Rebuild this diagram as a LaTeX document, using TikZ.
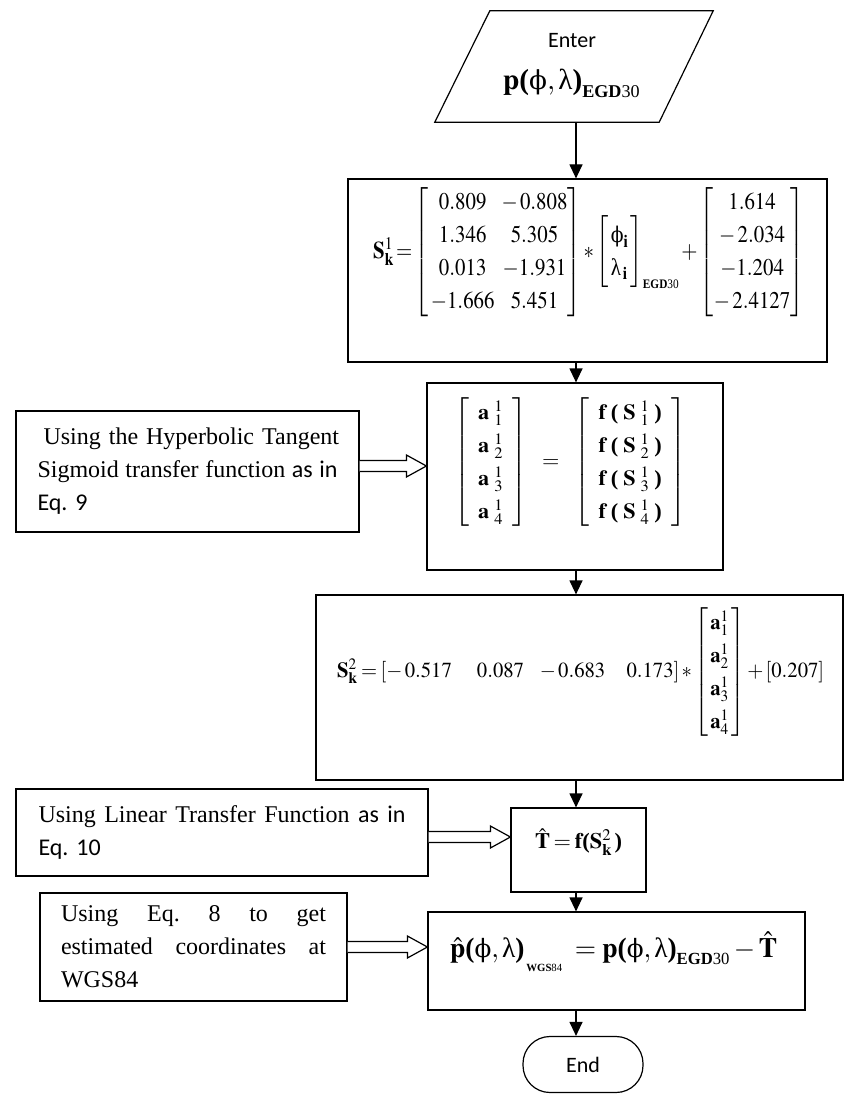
\documentclass[tikz,border=0pt]{standalone}
\usepackage{amsmath}
\usepackage{graphicx}
\usepackage{mathptmx}
\usepackage[no-math]{fontspec}
\setmainfont{Liberation Serif}
\newfontfamily\calib{Carlito}
\newfontfamily\grk[Scale=0.9]{DejaVu Serif}
\newcommand\fphi{\mbox{\grk ϕ}}
\newcommand\flam{\mbox{λ}}
\newcommand\jline[2]{\leavevmode\hbox to #1{#2}}
\newcommand\fitw[2]{\resizebox{#1}{\height}{#2}}
\usetikzlibrary{arrows.meta,calc}
\newcommand\harrow[3]{%
  \coordinate (hy) at (0,#3);
  \draw[line width=1.2pt, fill=white] let \p1=(#1.east |- hy), \p2=(#2.west |- hy) in
    (\x1,{\y1+5.5pt}) -- ({\x2-20pt},{\y1+5.5pt}) -- ({\x2-20pt},{\y1+11pt}) -- (\x2,\y1)
    -- ({\x2-20pt},{\y1-11pt}) -- ({\x2-20pt},{\y1-5.5pt}) -- (\x1,{\y1-5.5pt});
}
\begin{document}
\begin{tikzpicture}[x=1pt,y=-1pt,
  box/.style={draw, line width=1.2pt, rectangle, inner sep=0pt},
  arr/.style={line width=1.2pt, -{Triangle[width=13pt,length=14pt]}},
  side/.style={box, font=\fontsize{24}{33}\selectfont, align=left},
  eqn/.style={inner sep=0pt},
  eqa/.style={eqn, font=\fontsize{24}{30}\selectfont\renewcommand\arraystretch{1.1}},
  eqb/.style={eqn, font=\fontsize{21.5}{26}\selectfont\renewcommand\arraystretch{1.27}},
]
\useasboundingbox (0,0) rectangle (845,1094);
\coordinate (sp) at (576,0);

% Enter
\node[inner sep=0pt, minimum width=278pt, minimum height=111pt] (enter) at (574,66.5) {};
\draw[line width=1.2pt] ([xshift=55pt]enter.north west) -- (enter.north east)
  -- ([xshift=-54pt]enter.south east) -- (enter.south west) -- cycle;
\node[inner sep=0pt, font=\calib\fontsize{22}{26}\selectfont] (entert) at (572,41) {Enter};
\node[eqn, anchor=base west, font=\fontsize{29}{34}\selectfont] (enterp) at (503,90)
  {\fitw{137pt}{$\mathbf{p}\textbf{(}\fphi,\flam\textbf{)}_{\mbox{\fontsize{18}{18}\selectfont\textbf{EGD}30}}$}};

% Box 1
\node[box, minimum width=479pt, minimum height=183pt] (s1) at (587.5,270.5) {};
\node[eqa, anchor=west] (eq1) at (373,252) {\fitw{431pt}{$\thickmuskip=2mu\medmuskip=2mu \mathbf{S}^{1}_{\mathbf{k}} =
  \left[\begin{array}{@{\,}c@{\hspace{8pt}}c@{}} 0.809 & -\,0.808\\ 1.346 & 5.305\\ 0.013 & -1.931\\ -1.666 & 5.451\end{array}\right]
  * \left[\begin{array}{@{\,}l@{\;}}\fphi_{\mathbf{i}}\\ \flam_{\,\mathbf{i}}\end{array}\right]_{\mbox{\fontsize{13}{13}\selectfont\textbf{EGD}30}}
  + \left[\begin{array}{@{}c@{}} 1.614\\ -\,2.034\\ -1.204\\ -\,2.4127\end{array}\right]$}};

% Box 2
\node[box, minimum width=296pt, minimum height=187pt] (a1) at (575,476.5) {};
\node[eqb, anchor=center] (eq2) at (570,462) {\fitw{232pt}{$\setlength\arraycolsep{9pt}
  \left[\begin{array}{c} \mathbf{a}\;{}^{1}_{1}\\ \mathbf{a}\;{}^{1}_{2}\\ \mathbf{a}\;{}^{1}_{3}\\ \mathbf{a}\;{}^{1}_{4}\end{array}\right]
  \;\;=\;\;
  \left[\begin{array}{c} \mathbf{f}\;\textbf{(}\;\mathbf{S}\;{}^{1}_{1}\;\textbf{)}\\
  \mathbf{f}\;\textbf{(}\;\mathbf{S}\;{}^{1}_{2}\;\textbf{)}\\
  \mathbf{f}\;\textbf{(}\;\mathbf{S}\;{}^{1}_{3}\;\textbf{)}\\
  \mathbf{f}\;\textbf{(}\;\mathbf{S}\;{}^{1}_{4}\;\textbf{)}\end{array}\right]$}};

% Box 3
\node[box, minimum width=527pt, minimum height=185pt] (s2) at (579.5,687.5) {};
\node[eqb, anchor=west] (eq3) at (337,672) {\fitw{487pt}{$\thickmuskip=3mu\medmuskip=2mu \mathbf{S}^{2}_{\mathbf{k}} =
  \left[-\,0.517\hspace{26pt}0.087\hspace{14pt}-0.683\hspace{22pt}0.173\right] *
  \left[\begin{array}{@{\,}c@{\,}} \mathbf{a}^{1}_{1}\\ \mathbf{a}^{1}_{2}\\ \mathbf{a}^{1}_{3}\\ \mathbf{a}^{1}_{4}\end{array}\right]
  + \left[0.207\right]$}};

% T box
\node[box, minimum width=135pt, minimum height=84pt] (t) at (578.5,850) {};
\node[eqn, font=\fontsize{22}{26}\selectfont] (eqt) at (578.5,842)
  {\fitw{87pt}{$\thickmuskip=3mu\hat{\mathbf{T}} = \mathbf{f}\textbf{(}\mathbf{S}^{2}_{\mathbf{k}}\,\textbf{)}$}};

% p box
\node[box, minimum width=377pt, minimum height=98pt] (p) at (616.5,961) {};
\node[eqn, anchor=base west, font=\fontsize{28}{34}\selectfont] (eqp) at (450,957)
  {\fitw{327pt}{$\hat{\mathbf{p}}\textbf{(}\fphi,\flam\textbf{)}_{\raisebox{-7pt}{\fontsize{11}{12}\selectfont\,\textbf{WGS}84}}
   \;= \mathbf{p}\textbf{(}\fphi,\flam\textbf{)}_{\mbox{\fontsize{17}{17}\selectfont\textbf{EGD}30}} - \hat{\mathbf{T}}$}};

% End
\node[draw, line width=1.2pt, rounded corners=27pt, minimum width=120pt, minimum height=56pt,
  inner sep=0pt, font=\calib\fontsize{22}{26}\selectfont] (end) at (583,1064.5) {End};

% side boxes
\node[side, minimum width=343pt, minimum height=121pt, text width=300pt] (lb1) at (187.5,471.5)
  {\jline{300pt}{\hspace*{6pt}Using the Hyperbolic Tangent\hss}\\
   \jline{300pt}{Sigmoid\hfill transfer\hfill function\hfill {\calib as\hfill in}}\\
   {\calib Eq.~9}};
\node[side, minimum width=412pt, minimum height=87pt, text width=367pt] (lb2) at (222,832.5)
  {\jline{367pt}{Using\hfill Linear\hfill Transfer\hfill Function\hfill {\calib as\hfill in}}\\
   {\calib Eq.~10}};
\node[side, minimum width=307pt, minimum height=108pt, text width=265pt] (lb3) at (193.5,947)
  {\jline{265pt}{Using\hfill Eq.\hfill 8\hfill to\hfill get}\\
   \jline{265pt}{estimated\hfill coordinates\hfill at}\\
   WGS84};

% vertical arrows
\draw[arr] (enter.south -| sp) -- (s1.north -| sp);
\draw[arr] (s1.south -| sp) -- (a1.north -| sp);
\draw[arr] (a1.south -| sp) -- (s2.north -| sp);
\draw[arr] (s2.south -| sp) -- (t.north -| sp);
\draw[arr] (t.south -| sp) -- (p.north -| sp);
\draw[arr] (p.south -| sp) -- (end.north -| sp);

% hollow arrows
\harrow{lb1}{a1}{466}
\harrow{lb2}{t}{837}
\harrow{lb3}{p}{947}
\end{tikzpicture}
\end{document}
